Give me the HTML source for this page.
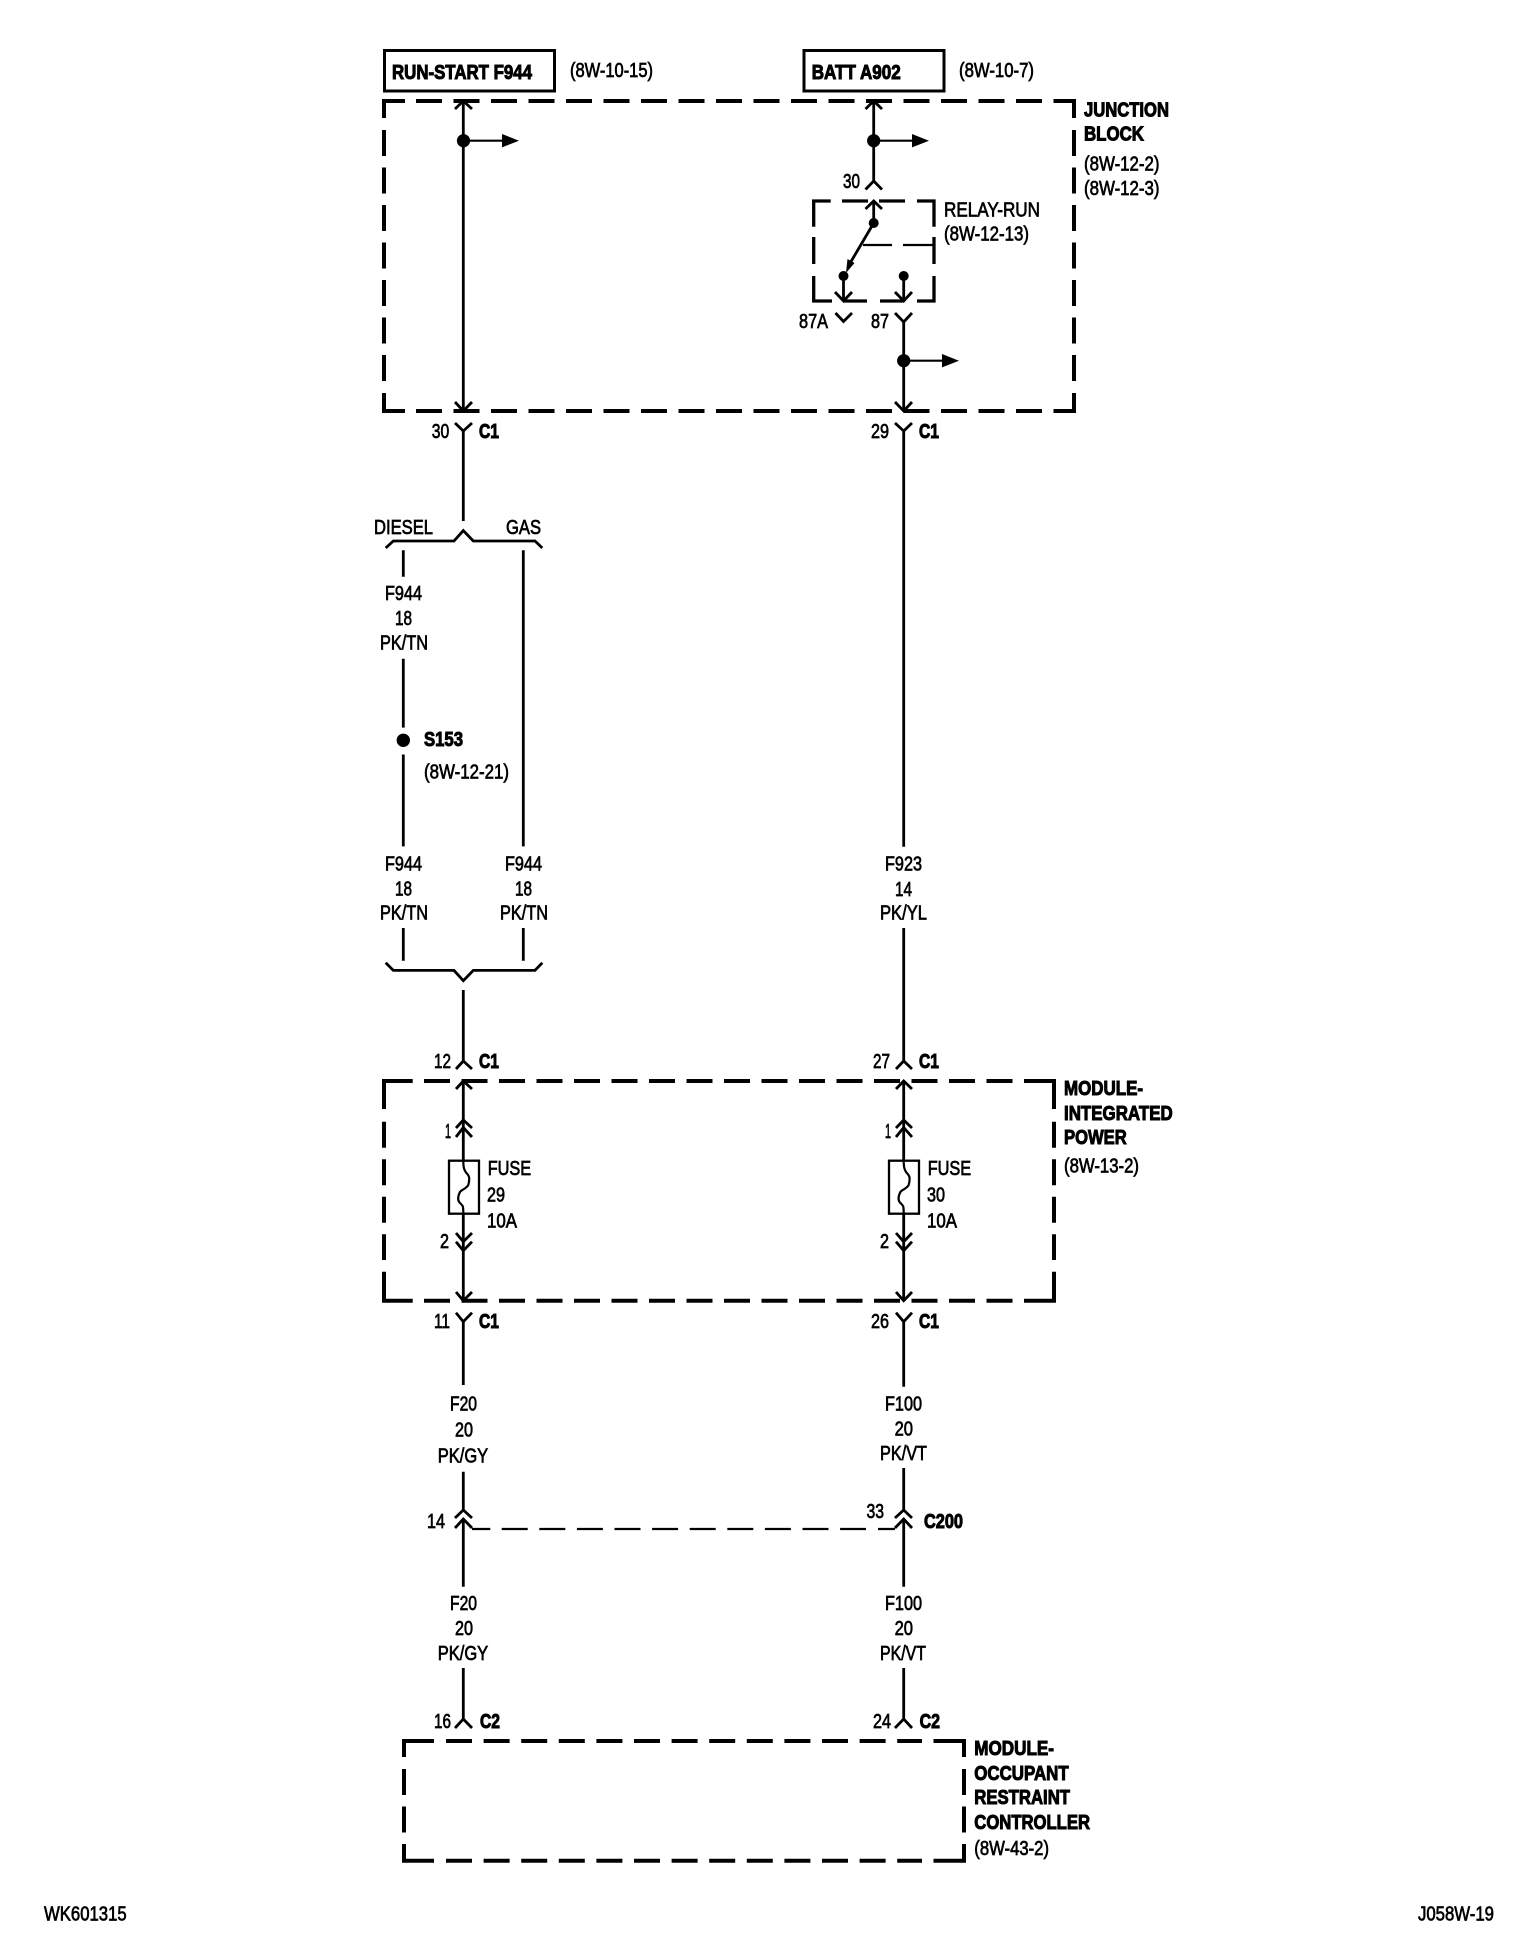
<!DOCTYPE html>
<html><head><meta charset="utf-8"><title>Wiring diagram</title>
<style>
html,body{margin:0;padding:0;background:#fff;width:1520px;height:1944px;overflow:hidden}
svg{display:block}
text{font-family:"Liberation Sans",sans-serif;font-size:20px;fill:#000;stroke:#000;stroke-width:.7}
.b{font-weight:bold;stroke-width:1}
.w{fill:none;stroke:#000;stroke-width:2.8}
.c{fill:none;stroke:#000;stroke-width:2.8}
.t{fill:none;stroke:#000;stroke-width:2.2}
.d{fill:none;stroke:#000;stroke-width:4}
.r{fill:none;stroke:#000;stroke-width:3.3}
</style></head><body>
<svg width="1520" height="1944" viewBox="0 0 1520 1944" xmlns="http://www.w3.org/2000/svg">
<rect width="1520" height="1944" fill="#fff"/>

<!-- top boxes -->
<rect x="384.5" y="50.5" width="170" height="40.5" fill="none" stroke="#000" stroke-width="3"/>
<rect x="804" y="50.5" width="140" height="40.5" fill="none" stroke="#000" stroke-width="3"/>

<!-- Junction block -->
<path class="d" d="M384,118V101H405"/>
<path class="d" d="M416,101H1042" stroke-dasharray="26 11.5"/>
<path class="d" d="M1053.5,101H1074V118"/>
<path class="d" d="M384,130V381" stroke-dasharray="26 11.5"/>
<path class="d" d="M1074,130V381" stroke-dasharray="26 11.5"/>
<path class="d" d="M384,393V411H405"/>
<path class="d" d="M416,411H1042" stroke-dasharray="26 11.5"/>
<path class="d" d="M1053.5,411H1074V393"/>

<!-- Relay box -->
<path class="r" d="M813.7,226.7V201H830.7M842,201H868M879,201H905M917,201H934V226.7M813.7,237V264M934,237V264M813.7,276V301H832M843,301H867M880,301H903M917,301H934V276"/>
<path class="t" d="M863,245H892M903,245H934"/>

<!-- Module integrated power box -->
<path class="d" d="M384,1109V1081H412.7"/>
<path class="d" d="M424,1081H1012.5" stroke-dasharray="26 11.5"/>
<path class="d" d="M1024,1081H1054V1109"/>
<path class="d" d="M384,1121.7V1260" stroke-dasharray="26 11.5"/>
<path class="d" d="M1054,1121.7V1260" stroke-dasharray="26 11.5"/>
<path class="d" d="M384,1271.7V1300.7H412.7"/>
<path class="d" d="M424,1300.7H1012.5" stroke-dasharray="26 11.5"/>
<path class="d" d="M1024,1300.7H1054V1271.7"/>

<!-- ORC box -->
<path class="d" d="M404,1757V1741H434"/>
<path class="d" d="M446,1741H922" stroke-dasharray="26 11.6"/>
<path class="d" d="M933.5,1741H964V1757"/>
<path class="d" d="M404,1769V1795M404,1806.5V1832.5M964,1769V1795M964,1806.5V1832.5"/>
<path class="d" d="M404,1844V1860.7H434"/>
<path class="d" d="M446,1860.7H922" stroke-dasharray="26 11.6"/>
<path class="d" d="M933.5,1860.7H964V1844"/>

<!-- Left column wires -->
<path class="w" d="M463.3,101V411M463.3,431V521"/>
<path class="c" d="M455,109L463.3,101L472,109M455,402L463.3,411L472,402M455,423L463.3,431L472,423"/>
<circle cx="463.5" cy="140.7" r="6.6"/>
<path class="t" d="M463.5,140.7H503"/>
<polygon points="502,134 519,140.7 502,147.4"/>

<path class="c" d="M385.7,548L393.3,541H454L463.3,530.6L473.3,541H535L542.3,548"/>
<path class="w" d="M403.3,550.3V576.8M403.3,658.7V727.6M403.3,754.5V846.4M523.3,550.3V846.4M403.3,928V960.7M523.3,928V960.7"/>
<circle cx="403.3" cy="740.3" r="6.7"/>
<path class="c" d="M385.7,962.8L393.3,970.4H454L463.3,980.7L473.3,970.4H535L542.3,962.8"/>

<path class="w" d="M463.3,990V1061M463.3,1081V1161M463.3,1213.7V1300.7M463.3,1321.7V1385M463.3,1471.7V1510M463.3,1519V1586.7M463.3,1668V1719"/>
<path class="c" d="M456,1069L463.3,1061L472,1069M456,1089L463.3,1081L472,1089M456,1128L463.3,1120L472,1128M456,1137L463.3,1127.5L472,1137M456,1233L463.3,1241.7L472,1233M456,1241.7L463.3,1250.7L472,1241.7M456,1292L463.3,1300.7L472,1292M456,1312.7L463.3,1321.7L472,1312.7"/>
<rect x="449" y="1160.7" width="30" height="53" fill="none" stroke="#000" stroke-width="2.3"/>
<path class="t" d="M463.3,1160.7C463.3,1168 464.3,1170 466,1172.5C469.5,1176 470,1178 468.3,1185C466,1189 461,1190 460,1192C457.5,1197 457.5,1200 459.5,1202.5C463.3,1206 463.3,1206 463.3,1213.7"/>

<path class="c" d="M455,1518L463.3,1510L472,1518M455,1528L463.3,1519L472,1528M455,1728L463.3,1719L472,1728"/>

<!-- Right column wires -->
<path class="w" d="M873.7,101V181M873.7,201V223"/>
<path class="c" d="M865.5,109L873.7,101L882,109M865.5,189.5L873.7,181L882,189.5M865.5,209L873.7,201L882,209"/>
<circle cx="873.7" cy="140.7" r="6.6"/>
<path class="t" d="M873.7,140.7H913"/>
<polygon points="912,134 929,140.7 912,147.4"/>

<circle cx="873.7" cy="223" r="5"/>
<path class="w" d="M873.7,223L849,265"/>
<polygon points="846,273 847.5,259 854.5,263"/>
<circle cx="843.5" cy="276" r="5"/>
<circle cx="903.7" cy="276" r="5"/>
<path class="w" d="M843.5,276V301M903.7,276V301"/>
<path class="c" d="M835,292L843.5,301L852,292M895,292L903.7,301L912,292M835.5,313L843.5,321.5L852,313M895,313L903.7,322L912,313"/>

<path class="w" d="M903.7,322V411M903.7,431V846.7M903.7,928V1061M903.7,1081V1161M903.7,1213.7V1300.7M903.7,1321.7V1386.7M903.7,1468V1510M903.7,1519V1586.7M903.7,1668V1719"/>
<path class="c" d="M895,402L903.7,411L912,402M895,423L903.7,431L912,423"/>
<circle cx="903.7" cy="360.7" r="6.6"/>
<path class="t" d="M903.7,360.7H943"/>
<polygon points="942,354 959,360.7 942,367.4"/>

<path class="c" d="M896,1069L903.7,1061L912,1069M896,1089L903.7,1081L912,1089M896,1128L903.7,1120L912,1128M896,1137L903.7,1127.5L912,1137M896,1233L903.7,1241.7L912,1233M896,1241.7L903.7,1250.7L912,1241.7M896,1292L903.7,1300.7L912,1292M896,1312.7L903.7,1321.7L912,1312.7"/>
<rect x="889" y="1160.7" width="30" height="53" fill="none" stroke="#000" stroke-width="2.3"/>
<path class="t" d="M903.7,1160.7C903.7,1168 904.7,1170 906.4,1172.5C909.9,1176 910.4,1178 908.7,1185C906.4,1189 901.4,1190 900.4,1192C897.9,1197 897.9,1200 899.9,1202.5C903.7,1206 903.7,1206 903.7,1213.7"/>
<path class="c" d="M895,1518L903.7,1510L912,1518M895,1528L903.7,1519L912,1528M895,1728L903.7,1719L912,1728"/>

<!-- C200 dashed link -->
<path class="t" d="M472,1529H490.3M878,1529H895"/>
<path class="t" d="M501.7,1529H866" stroke-dasharray="26 11.6"/>

<!-- Text -->
<text class="b" x="392" y="79" textLength="140" lengthAdjust="spacingAndGlyphs">RUN-START F944</text>
<text x="570" y="77" textLength="83" lengthAdjust="spacingAndGlyphs">(8W-10-15)</text>
<text class="b" x="811.7" y="79" textLength="89" lengthAdjust="spacingAndGlyphs">BATT A902</text>
<text x="959" y="77" textLength="75" lengthAdjust="spacingAndGlyphs">(8W-10-7)</text>
<text class="b" x="1084" y="116.7" textLength="85" lengthAdjust="spacingAndGlyphs">JUNCTION</text>
<text class="b" x="1084" y="140.7" textLength="60" lengthAdjust="spacingAndGlyphs">BLOCK</text>
<text x="1084" y="170.7" textLength="75.5" lengthAdjust="spacingAndGlyphs">(8W-12-2)</text>
<text x="1084" y="195" textLength="75.5" lengthAdjust="spacingAndGlyphs">(8W-12-3)</text>
<text x="843" y="188" textLength="17" lengthAdjust="spacingAndGlyphs">30</text>
<text x="944" y="216.7" textLength="96" lengthAdjust="spacingAndGlyphs">RELAY-RUN</text>
<text x="944" y="240.6" textLength="85" lengthAdjust="spacingAndGlyphs">(8W-12-13)</text>
<text x="799" y="328" textLength="29" lengthAdjust="spacingAndGlyphs">87A</text>
<text x="871" y="328" textLength="18" lengthAdjust="spacingAndGlyphs">87</text>
<text x="431.7" y="438" textLength="17.5" lengthAdjust="spacingAndGlyphs">30</text>
<text class="b" x="479" y="438" textLength="20" lengthAdjust="spacingAndGlyphs">C1</text>
<text x="871" y="438" textLength="18" lengthAdjust="spacingAndGlyphs">29</text>
<text class="b" x="919" y="438" textLength="20" lengthAdjust="spacingAndGlyphs">C1</text>

<text x="374" y="534" textLength="59" lengthAdjust="spacingAndGlyphs">DIESEL</text>
<text x="506" y="534" textLength="35" lengthAdjust="spacingAndGlyphs">GAS</text>
<text x="385" y="600.2" textLength="37" lengthAdjust="spacingAndGlyphs">F944</text>
<text x="395" y="625" textLength="17" lengthAdjust="spacingAndGlyphs">18</text>
<text x="380" y="649.4" textLength="48" lengthAdjust="spacingAndGlyphs">PK/TN</text>
<text class="b" x="424" y="745.9" textLength="39" lengthAdjust="spacingAndGlyphs">S153</text>
<text x="424" y="778.6" textLength="85" lengthAdjust="spacingAndGlyphs">(8W-12-21)</text>
<text x="385" y="870.5" textLength="37" lengthAdjust="spacingAndGlyphs">F944</text>
<text x="395" y="895.6" textLength="17" lengthAdjust="spacingAndGlyphs">18</text>
<text x="380" y="919.7" textLength="48" lengthAdjust="spacingAndGlyphs">PK/TN</text>
<text x="505" y="870.5" textLength="37" lengthAdjust="spacingAndGlyphs">F944</text>
<text x="515" y="895.6" textLength="17" lengthAdjust="spacingAndGlyphs">18</text>
<text x="500" y="919.7" textLength="48" lengthAdjust="spacingAndGlyphs">PK/TN</text>
<text x="885" y="870.7" textLength="37" lengthAdjust="spacingAndGlyphs">F923</text>
<text x="895" y="896" textLength="17" lengthAdjust="spacingAndGlyphs">14</text>
<text x="880" y="919.3" textLength="47" lengthAdjust="spacingAndGlyphs">PK/YL</text>

<text x="434" y="1068" textLength="17" lengthAdjust="spacingAndGlyphs">12</text>
<text class="b" x="479" y="1068" textLength="20" lengthAdjust="spacingAndGlyphs">C1</text>
<text x="873" y="1068" textLength="17" lengthAdjust="spacingAndGlyphs">27</text>
<text class="b" x="919" y="1068" textLength="20" lengthAdjust="spacingAndGlyphs">C1</text>
<text class="b" x="1064" y="1095" textLength="79" lengthAdjust="spacingAndGlyphs">MODULE-</text>
<text class="b" x="1064" y="1120" textLength="108.7" lengthAdjust="spacingAndGlyphs">INTEGRATED</text>
<text class="b" x="1064" y="1144" textLength="62.7" lengthAdjust="spacingAndGlyphs">POWER</text>
<text x="1064" y="1172.7" textLength="75" lengthAdjust="spacingAndGlyphs">(8W-13-2)</text>
<text x="445" y="1138" textLength="6" lengthAdjust="spacingAndGlyphs">1</text>
<text x="885" y="1138" textLength="6" lengthAdjust="spacingAndGlyphs">1</text>
<text x="487.7" y="1175" textLength="43.5" lengthAdjust="spacingAndGlyphs">FUSE</text>
<text x="487" y="1201.7" textLength="18" lengthAdjust="spacingAndGlyphs">29</text>
<text x="487" y="1227.7" textLength="30" lengthAdjust="spacingAndGlyphs">10A</text>
<text x="927.7" y="1175" textLength="43.5" lengthAdjust="spacingAndGlyphs">FUSE</text>
<text x="927" y="1201.7" textLength="18" lengthAdjust="spacingAndGlyphs">30</text>
<text x="927" y="1227.7" textLength="30" lengthAdjust="spacingAndGlyphs">10A</text>
<text x="440" y="1248" textLength="9" lengthAdjust="spacingAndGlyphs">2</text>
<text x="880" y="1248" textLength="9" lengthAdjust="spacingAndGlyphs">2</text>
<text x="434" y="1328" textLength="16" lengthAdjust="spacingAndGlyphs">11</text>
<text class="b" x="479" y="1328" textLength="20" lengthAdjust="spacingAndGlyphs">C1</text>
<text x="871" y="1328" textLength="18" lengthAdjust="spacingAndGlyphs">26</text>
<text class="b" x="919" y="1328" textLength="20" lengthAdjust="spacingAndGlyphs">C1</text>

<text x="450" y="1410.7" textLength="27" lengthAdjust="spacingAndGlyphs">F20</text>
<text x="455" y="1436.7" textLength="18" lengthAdjust="spacingAndGlyphs">20</text>
<text x="437.7" y="1462.7" textLength="50.5" lengthAdjust="spacingAndGlyphs">PK/GY</text>
<text x="885" y="1410.7" textLength="37" lengthAdjust="spacingAndGlyphs">F100</text>
<text x="894.6" y="1435.7" textLength="18.4" lengthAdjust="spacingAndGlyphs">20</text>
<text x="880" y="1460" textLength="47" lengthAdjust="spacingAndGlyphs">PK/VT</text>
<text x="427" y="1528" textLength="18" lengthAdjust="spacingAndGlyphs">14</text>
<text x="866.5" y="1518" textLength="17.5" lengthAdjust="spacingAndGlyphs">33</text>
<text class="b" x="924" y="1528" textLength="39" lengthAdjust="spacingAndGlyphs">C200</text>
<text x="450" y="1610" textLength="27" lengthAdjust="spacingAndGlyphs">F20</text>
<text x="455" y="1635" textLength="18" lengthAdjust="spacingAndGlyphs">20</text>
<text x="437.7" y="1660" textLength="50.5" lengthAdjust="spacingAndGlyphs">PK/GY</text>
<text x="885" y="1610" textLength="37" lengthAdjust="spacingAndGlyphs">F100</text>
<text x="894.6" y="1635" textLength="18.4" lengthAdjust="spacingAndGlyphs">20</text>
<text x="880" y="1660" textLength="46" lengthAdjust="spacingAndGlyphs">PK/VT</text>
<text x="434" y="1728" textLength="17" lengthAdjust="spacingAndGlyphs">16</text>
<text class="b" x="480" y="1728" textLength="20" lengthAdjust="spacingAndGlyphs">C2</text>
<text x="873" y="1728" textLength="18" lengthAdjust="spacingAndGlyphs">24</text>
<text class="b" x="919.6" y="1728" textLength="20.4" lengthAdjust="spacingAndGlyphs">C2</text>

<text class="b" x="974.3" y="1755" textLength="79.7" lengthAdjust="spacingAndGlyphs">MODULE-</text>
<text class="b" x="974.3" y="1780" textLength="94.4" lengthAdjust="spacingAndGlyphs">OCCUPANT</text>
<text class="b" x="974.3" y="1804" textLength="95.7" lengthAdjust="spacingAndGlyphs">RESTRAINT</text>
<text class="b" x="974.3" y="1829" textLength="115.7" lengthAdjust="spacingAndGlyphs">CONTROLLER</text>
<text x="974.3" y="1855" textLength="74.7" lengthAdjust="spacingAndGlyphs">(8W-43-2)</text>

<text x="44" y="1920.7" textLength="82.7" lengthAdjust="spacingAndGlyphs">WK601315</text>
<text x="1418" y="1920.7" textLength="76" lengthAdjust="spacingAndGlyphs">J058W-19</text>
</svg>
</body></html>
